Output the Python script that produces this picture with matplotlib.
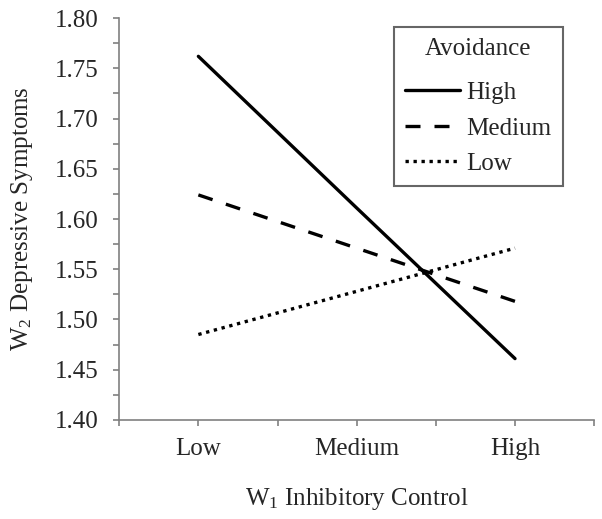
import numpy as np
import matplotlib
matplotlib.use('Agg')
import matplotlib.pyplot as plt
from matplotlib.ticker import MultipleLocator

plt.rcParams['font.family'] = ['Liberation Serif', 'DejaVu Serif']
plt.rcParams['mathtext.default'] = 'regular'

# data
control_levels = ['Low', 'Medium', 'High']
avoid_high = [1.762, 1.611, 1.461]
avoid_medium = [1.624, 1.571, 1.518]
avoid_low = [1.485, 1.528, 1.571]

text_col = '#262626'
axis_col = '#808080'

fig = plt.figure(figsize=(6.02, 5.19), dpi=100)
ax = fig.add_axes([0.198, 0.191, 0.789, 0.774])

x = np.arange(1, len(control_levels) + 1)
ax.plot(x, avoid_high, color='black', lw=2.4, solid_capstyle='round', label='High')
ax.plot(x, avoid_medium, color='black', lw=2.4, dashes=(4.5, 4.2), label='Medium')
ax.plot(x, avoid_low, color='black', lw=2.4, dashes=(1, 1.4), label='Low')

ax.set_xlim(0.5, 3.5)
ax.set_ylim(1.40, 1.80)
ax.set_xticks(x)
ax.set_xticklabels(control_levels)
ax.xaxis.set_minor_locator(MultipleLocator(0.5))
ax.yaxis.set_major_locator(MultipleLocator(0.05))
ax.yaxis.set_minor_locator(MultipleLocator(0.025))
ax.yaxis.set_major_formatter(plt.FuncFormatter(lambda v, p: '%.2f' % v))

for s in ['top', 'right']:
    ax.spines[s].set_visible(False)
for s in ['left', 'bottom']:
    ax.spines[s].set_color(axis_col)
    ax.spines[s].set_linewidth(1.2)

ax.tick_params(axis='both', which='both', direction='out', length=4,
               width=1.2, color=axis_col, labelsize=18, labelcolor=text_col)
ax.tick_params(axis='y', which='both', pad=11)
ax.tick_params(axis='x', which='both', pad=9)

ax.set_xlabel('W$_1$ Inhibitory Control', fontsize=18, color=text_col, labelpad=19)
ax.set_ylabel('W$_2$ Depressive Symptoms', fontsize=18, color=text_col, labelpad=14)

leg = ax.legend(title='Avoidance', fontsize=18, title_fontsize=18,
                loc='upper left', bbox_to_anchor=(394 / 602, 1 - 27 / 519),
                bbox_transform=fig.transFigure, frameon=True, fancybox=False,
                handlelength=2.2, handletextpad=0.25, labelspacing=0.52,
                borderpad=0.45, borderaxespad=0)
# a bit more room between the title and the entries
leg._legend_box.sep = 0.52 * 18 + 6
leg.get_frame().set_edgecolor('#404040')
leg.get_frame().set_linewidth(1.5)
leg.get_title().set_color(text_col)
for t in leg.get_texts():
    t.set_color(text_col)

fig.savefig('out.png', dpi=100)
